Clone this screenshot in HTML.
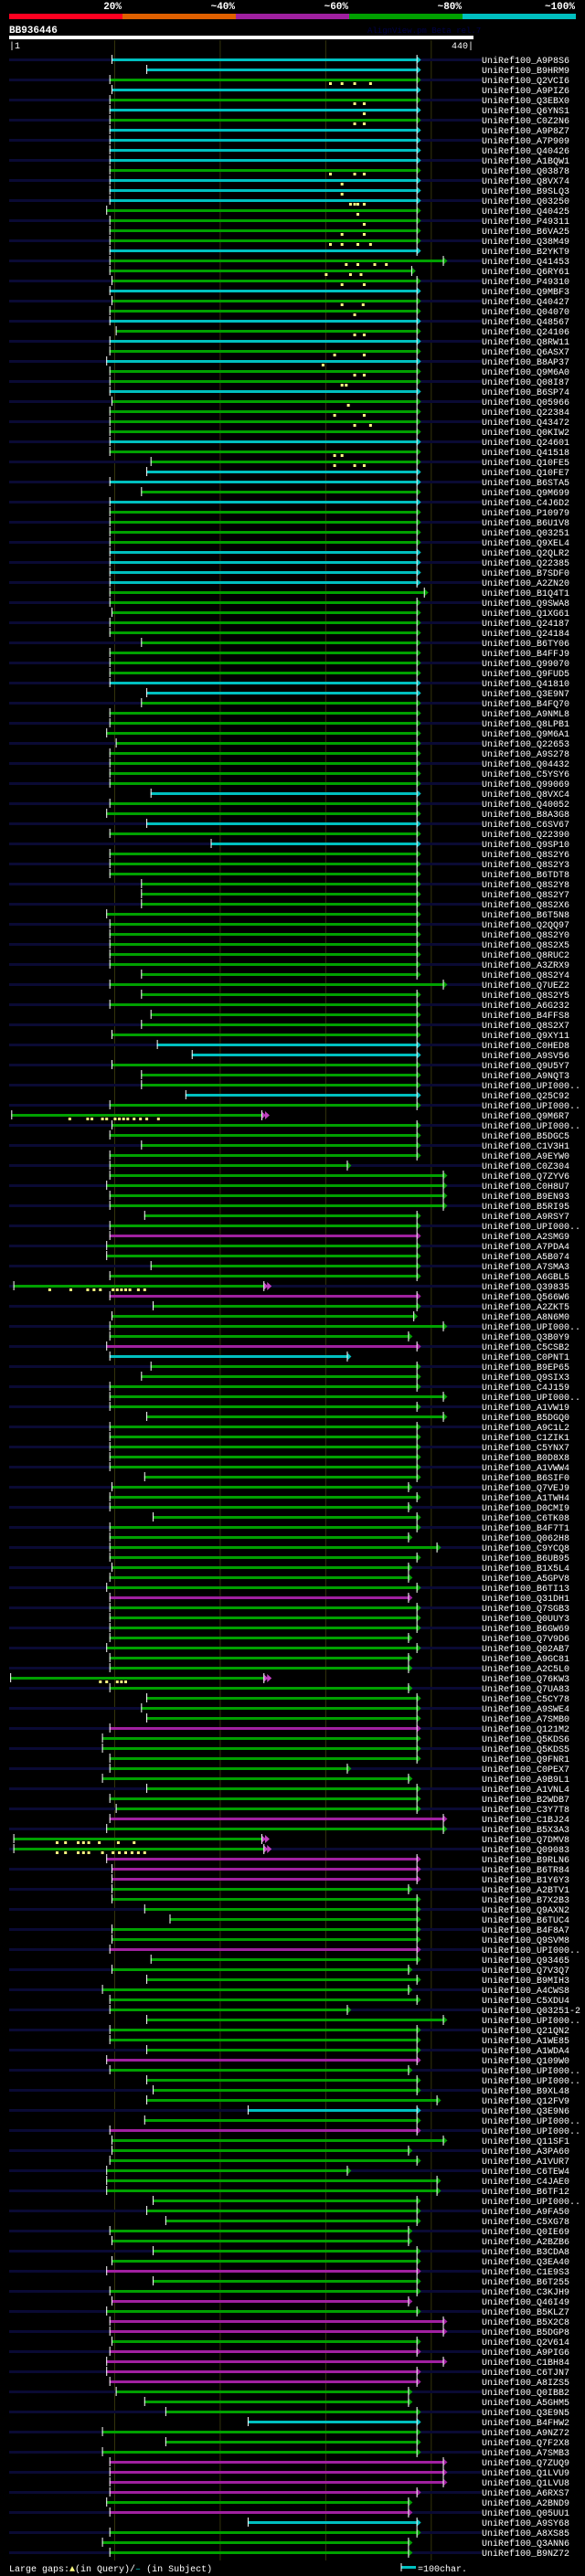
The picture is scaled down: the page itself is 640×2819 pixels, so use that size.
<!DOCTYPE html>
<html><head><meta charset="utf-8"><style>
html,body{margin:0;padding:0;background:#000;}
svg{display:block;}
text{font-family:"Liberation Mono","DejaVu Sans Mono",monospace;}
</style></head><body>
<svg id="chart" width="640" height="2819" viewBox="0 0 640 2819" xmlns="http://www.w3.org/2000/svg">
<rect x="0" y="0" width="640" height="2819" fill="#000"/>
<g>
<text x="133" y="10" fill="#fff" font-size="11" font-weight="bold" text-anchor="end">20%</text>
<text x="257" y="10" fill="#fff" font-size="11" font-weight="bold" text-anchor="end">~40%</text>
<text x="381" y="10" fill="#fff" font-size="11" font-weight="bold" text-anchor="end">~60%</text>
<text x="505" y="10" fill="#fff" font-size="11" font-weight="bold" text-anchor="end">~80%</text>
<text x="629" y="10" fill="#fff" font-size="11" font-weight="bold" text-anchor="end">~100%</text>
<rect x="10" y="15" width="124" height="6" fill="#ff0020"/>
<rect x="134" y="15" width="124" height="6" fill="#e06000"/>
<rect x="258" y="15" width="124" height="6" fill="#a020a0"/>
<rect x="382" y="15" width="124" height="6" fill="#00a000"/>
<rect x="506" y="15" width="124" height="6" fill="#00c0c0"/>
</g>
<text x="10" y="36" fill="#fff" font-size="11" font-weight="bold">BB936446</text>
<text x="402" y="36" fill="#000048" font-size="9">AlignView.pm Beta rel.7</text>
<rect x="10" y="39" width="508" height="4" fill="#fff"/>
<text x="10" y="53" fill="#fff" font-size="10">|1</text>
<text x="518" y="53" fill="#fff" font-size="10" text-anchor="end">440|</text>
<g id="grid"></g>
<g id="rows"></g>
<g>
<text x="10" y="2814" fill="#fff" font-size="10">Large gaps:<tspan fill="#ffff80">▲</tspan>(in Query)/<tspan fill="#00c0c0">–</tspan> (in Subject)</text>
<rect x="439" y="2808" width="16" height="3" fill="#00c0c0"/>
<line x1="439" y1="2805" x2="439" y2="2814" stroke="#fff" stroke-width="1"/>
<text x="457" y="2814" fill="#fff" font-size="10">=100char.</text>
</g>
</svg>
<script>
const labels=["A9P8S6","B9HRM9","Q2VCI6","A9PIZ6","Q3EBX0","Q6YNS1","C0Z2N6","A9P8Z7","A7P909","Q40426",
"A1BQW1","Q03878","Q8VX74","B9SLQ3","Q03250","Q40425","P49311","B6VA25","Q38M49","B2YKT9",
"Q41453","Q6RY61","P49310","Q9MBF3","Q40427","Q04070","Q48567","Q24106","Q8RW11","Q6ASX7",
"B8AP37","Q9M6A0","Q08I87","B6SP74","Q05966","Q22384","Q43472","Q0KIW2","Q24601","Q41518",
"Q10FE5","Q10FE7","B6STA5","Q9M699","C4J6D2","P10979","B6U1V8","Q03251","Q9XEL4","Q2QLR2",
"Q22385","B7SDF0","A2ZN20","B1Q4T1","Q9SWA8","Q1XG61","Q24187","Q24184","B6TY06","B4FFJ9",
"Q99070","Q9FUD5","Q41810","Q3E9N7","B4FQ70","A9NML8","Q8LPB1","Q9M6A1","Q22653","A9S278",
"Q04432","C5YSY6","Q99069","Q8VXC4","Q40052","B8A3G8","C6SV67","Q22390","Q9SP10","Q8S2Y6",
"Q8S2Y3","B6TDT8","Q8S2Y8","Q8S2Y7","Q8S2X6","B6T5N8","Q2QQ97","Q8S2Y0","Q8S2X5","Q8RUC2",
"A3ZRX9","Q8S2Y4","Q7UEZ2","Q8S2Y5","A6G232","B4FFS8","Q8S2X7","Q9XY11","C0HED8","A9SV56",
"Q9U5Y7","A9NQT3","UPI000..","Q25C92","UPI000..","Q9M6R7","UPI000..","B5DGC5","C1V3H1","A9EYW0",
"C0Z304","Q7ZYV6","C0H8U7","B9EN93","B5RI95","A9RSY7","UPI000..","A2SMG9","A7PDA4","A5B074",
"A7SMA3","A6GBL5","Q39835","Q566W6","A2ZKT5","A8N6M0","UPI000..","Q3B0Y9","C5CSB2","C0PNT1",
"B9EP65","Q9SIX3","C4J159","UPI000..","A1VW19","B5DGQ0","A9C1L2","C1ZIK1","C5YNX7","B0D8X8",
"A1VWW4","B6SIF0","Q7VEJ9","A1TWH4","D0CMI9","C6TK08","B4F7T1","Q062H8","C9YCQ8","B6UB95",
"B1X5L4","A5GPV8","B6TI13","Q31DH1","Q7SGB3","Q0UUY3","B6GW69","Q7V9D6","Q02AB7","A9GC81",
"A2C5L0","Q76KW3","Q7UA83","C5CY78","A9SWE4","A7SMB0","Q121M2","Q5KDS6","Q5KDS5","Q9FNR1",
"C0PEX7","A9B9L1","A1VNL4","B2WDB7","C3Y7T8","C1BJ24","B5X3A3","Q7DMV8","Q09083","B9RLN6",
"B6TR84","B1Y6Y3","A2BTV1","B7X2B3","Q9AXN2","B6TUC4","B4F8A7","Q9SVM8","UPI000..","Q93465",
"Q7V3Q7","B9MIH3","A4CWS8","C5XDU4","Q03251-2","UPI000..","Q21QN2","A1WE85","A1WDA4","Q109W0",
"UPI000..","UPI000..","B9XL48","Q12FV9","Q3E9N6","UPI000..","UPI000..","Q11SF1","A3PA60","A1VUR7",
"C6TEW4","C4JAE0","B6TF12","UPI000..","A9FA50","C5XG78","Q0IE69","A2BZB6","B3CDA8","Q3EA40",
"C1E9S3","B6T255","C3KJH9","Q46I49","B5KLZ7","B5X2C8","B5DGP8","Q2V614","A9PIG6","C1BH84",
"C6TJN7","A8IZS5","Q0IBB2","A5GHM5","Q3E9N5","B4FHW2","A9NZ72","Q7F2X8","A7SMB3","Q7ZUQ9",
"Q1LVU9","Q1LVU8","A6RXS7","A2BND9","Q05UU1","A9SY68","A8XS85","Q3ANN6","B9NZ72"];
const identity=("CCGCGCGCCC"+"CGCCCGGGGC"+"GGGCGGCGCG"+"CGGCGGGGCG"+"GCCGCGGGGC"+"CCCGGGGGGG"+"GGCCGGGGGG"+"GGGCGGCGCG"+
"GGGGGGGGGG"+"GGGGGGGGCC"+"GGGCGGGGGG"+"GGGGGGGMGG"+"GGGMGGGGMC"+"GGGGGGGGGG"+"GGGGGGGGGG"+"GGGMGGGGGG"+
"GGGGGGMGGG"+"GGGGGMGGGM"+"MMGGGGGGMG"+"GGGGGGGGGM"+"GGGGCGMGGG"+"GGGGGGGGGG"+"MGGMGMMGMM"+"MMGGGCGGGM"+"MMMGMCGGG").split("");
const starts=[97,130,95,97,95,95,95,95,95,95, 95,95,95,95,95,92,95,95,95,95, 95,95,97,95,97,95,95,101,95,95,
92,95,95,95,97,95,95,95,95,95, 134,130,95,125,95,95,95,95,95,95, 95,95,95,95,95,97,95,95,125,95,
95,95,95,130,125,95,95,92,101,95, 95,95,95,134,95,92,130,95,191,95, 95,95,125,125,125,92,95,95,95,95,
95,125,95,125,95,134,125,97,140,173, 97,125,125,167,95,2,97,95,125,95, 95,95,92,95,95,128,95,95,92,92,
134,95,4,95,136,97,95,95,92,95, 134,125,95,95,95,130,95,95,95,95, 95,128,97,95,95,136,95,95,95,95,
97,95,92,95,95,95,95,95,92,95, 95,1,95,130,125,130,95,88,88,95, 95,88,130,95,101,95,92,4,4,92,
97,97,97,97,128,152,97,97,95,134, 97,130,88,95,95,130,95,95,130,92, 95,130,136,130,226,128,95,97,97,95,
92,92,92,136,130,148,95,97,136,97, 92,136,95,97,92,95,95,97,95,92, 92,95,101,128,148,226,88,148,88,95,
95,95,95,92,95,226,95,88,95];
const ends=[386,386,386,386,386,386,386,386,386,386, 386,386,386,386,386,386,386,386,386,386, 411,381,386,386,386,386,386,386,386,386,
386,386,386,386,386,386,386,386,386,386, 386,386,386,386,386,386,386,386,386,386, 386,386,386,393,386,386,386,386,386,386,
386,386,386,386,386,386,386,386,386,386, 386,386,386,386,386,386,386,386,386,386, 386,386,386,386,386,386,386,386,386,386,
386,386,411,386,386,386,386,386,386,386, 386,386,386,386,386,239,386,386,386,386, 320,411,411,411,411,386,386,386,386,386,
386,386,241,386,386,383,411,378,386,320, 386,386,386,411,386,411,386,386,386,386, 386,386,378,386,378,386,386,378,405,386,
378,378,386,378,386,386,386,378,386,378, 378,241,378,386,386,386,386,386,386,386, 320,378,386,386,386,411,411,239,241,386,
386,386,378,386,386,386,386,386,386,386, 378,386,378,386,320,411,386,386,386,386, 378,386,386,405,386,386,386,411,378,386,
320,405,405,386,386,386,378,378,386,386, 386,386,386,378,386,411,411,386,386,411, 386,386,378,378,386,386,386,386,386,411,
411,411,386,378,378,386,386,378,378];
const markRows=[2,2,2,2,4,4,5,6,6,11,11,11,12,13,14,14,14,14,15,16,17,17,18,18,18,18,20,20,20,20,21,21,21,22,22,24,24,25,27,27,29,29,30,31,31,32,32,34,35,35,36,36,39,39,40,40,40,
105,105,105,105,105,105,105,105,105,105,105,105,105,122,122,122,122,122,122,122,122,122,122,122,122,161,161,161,161,161,177,177,177,177,177,177,177,177,178,178,178,178,178,178,178,178,178,178,178,178];
const markUnits=[304,315,327,342,327,336,336,327,336,304,327,336,315,315,323,327,330,336,330,336,315,336,304,315,330,342,319,330,346,357,300,323,333,315,336,315,335,327,327,336,308,336,297,327,336,315,319,321,308,336,327,342,308,315,308,327,336,
57,74,78,88,92,100,104,108,112,118,124,130,141,38,58,74,80,86,98,102,106,110,114,122,128,86,92,102,106,110,45,53,65,70,75,85,103,118,45,53,65,70,75,88,98,104,110,116,122,128];
const gridUnits=[100,200,300,400];
const specialRows=[105,122,161,177,178];
const COLORS={C:"#00c0c0",G:"#00a000",M:"#a020a0"};
const NS="http://www.w3.org/2000/svg";
const xU=u=>10+u*(508/440);
const yRow=i=>65+i*11;
function mk(tag,attrs,parent){const e=document.createElementNS(NS,tag);for(const k in attrs)e.setAttribute(k,attrs[k]);parent.appendChild(e);return e;}
const grid=document.getElementById('grid');
gridUnits.forEach(u=>{
  const l=mk('line',{x1:xU(u),y1:44,x2:xU(u),y2:2802,stroke:'#34340c','stroke-width':1},grid);
  
  
});
const rowsG=document.getElementById('rows');
labels.forEach((lab,i)=>{
  const y=yRow(i);
  const g=mk('g',{},rowsG);
  
  
  if(i%2===0){
    const bg=mk('rect',{x:10,y:y-1,width:517,height:3,fill:'#0a0a34'},g);
    
    
  }
  const x0=xU(starts[i]),x1=xU(ends[i]);
  const col=COLORS[identity[i]];
  const bar=mk('rect',{x:x0,y:y-1,width:x1-x0,height:3,fill:col},g);
  
  
  const st=mk('line',{x1:x0+0.5,y1:y-5,x2:x0+0.5,y2:y+5,stroke:'#fff','stroke-width':1},g);
  
  
  const special=specialRows.indexOf(i)>=0;
  const tcol=special?'#c040c0':col;
  const tri=mk('polygon',{points:`${x1},${y-4} ${x1+5},${y+0.5} ${x1},${y+5}`,fill:tcol},g);
  
  
  if(special){
    const tri2=mk('polygon',{points:`${x1+4},${y-4} ${x1+9},${y+0.5} ${x1+4},${y+5}`,fill:tcol},g);
    
    
  }
  const et=mk('line',{x1:x1+0.5,y1:y-5,x2:x1+0.5,y2:y+6,stroke:'#fff','stroke-width':1},g);
  
  
  const t=mk('text',{x:527,y:y+4,fill:'#fff','font-size':10},g);
  t.textContent='UniRef100_'+lab;
  
  
});
markRows.forEach((r,k)=>{
  const x=xU(markUnits[k]),y=yRow(r);
  const m=mk('rect',{x:x-1,y:y+3,width:3,height:3,fill:'#ffff80'},rowsG);
  
  
});
</script>
</body></html>
